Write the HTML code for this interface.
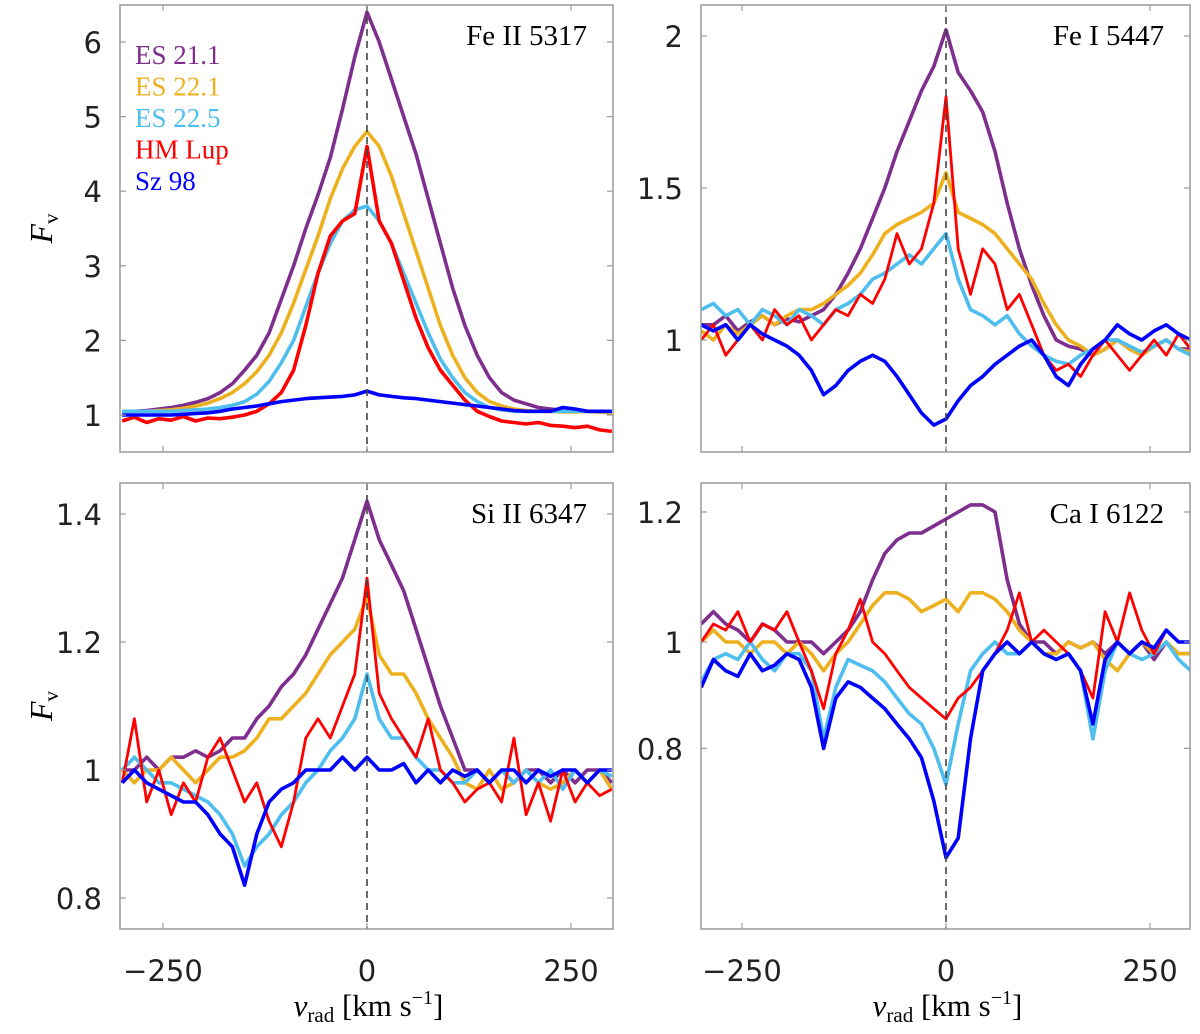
<!DOCTYPE html>
<html><head><meta charset="utf-8"><style>
html,body{margin:0;padding:0;background:#fff;}
svg{display:block;}
.tk{font-family:"DejaVu Sans","Liberation Sans",sans-serif;font-size:29px;fill:#222;}
.sf{font-family:"Liberation Serif",serif;}
</style></head><body>
<svg id="chart" width="1200" height="1034" viewBox="0 0 1200 1034" xmlns="http://www.w3.org/2000/svg"></svg>
<script>
const velocities = [-300,-285,-270,-255,-240,-225,-210,-195,-180,-165,-150,-135,-120,-105,-90,-75,-60,-45,-30,-15,0,15,30,45,60,75,90,105,120,135,150,165,180,195,210,225,240,255,270,285,300];
const seriesNames = ["ES 21.1","ES 22.1","ES 22.5","HM Lup","Sz 98"];
const panelTitles = ["Fe II 5317","Fe I 5447","Si II 6347","Ca I 6122"];
const xTicks = [-250,0,250];
const yTicksFe2 = [1,2,3,4,5,6];
const yTicksFe1 = [1,1.5,2];
const yTicksSi2 = [0.8,1,1.2,1.4];
const yTicksCa1 = [0.8,1,1.2];

const fe2Purple=[1.05,1.05,1.06,1.08,1.1,1.13,1.17,1.22,1.3,1.42,1.6,1.8,2.1,2.55,3.0,3.5,3.95,4.45,5.1,5.8,6.4,6.0,5.5,5.0,4.5,3.9,3.3,2.7,2.2,1.8,1.5,1.3,1.2,1.15,1.1,1.08,1.06,1.05,1.05,1.04,1.03];
const fe2Orange=[1.05,1.05,1.05,1.06,1.07,1.09,1.12,1.16,1.22,1.3,1.42,1.58,1.8,2.1,2.5,2.95,3.4,3.9,4.3,4.6,4.8,4.6,4.2,3.7,3.2,2.7,2.2,1.8,1.5,1.3,1.18,1.12,1.08,1.06,1.05,1.05,1.04,1.04,1.05,1.04,1.03];
const fe2Cyan=[1.05,1.05,1.05,1.05,1.05,1.06,1.07,1.08,1.1,1.13,1.18,1.28,1.45,1.7,2.0,2.45,2.9,3.3,3.6,3.75,3.8,3.6,3.3,2.9,2.5,2.1,1.75,1.5,1.3,1.18,1.1,1.07,1.05,1.05,1.05,1.05,1.05,1.05,1.05,1.05,1.05];
const fe2Red=[0.92,0.97,0.9,0.95,0.93,0.98,0.92,0.96,0.95,0.97,1.0,1.05,1.15,1.3,1.6,2.2,2.9,3.4,3.6,3.7,4.6,3.6,3.3,2.8,2.3,1.9,1.6,1.4,1.2,1.05,0.98,0.92,0.9,0.88,0.9,0.86,0.85,0.83,0.85,0.8,0.78];
const fe2Blue=[1.0,1.0,1.0,1.0,1.0,1.01,1.02,1.03,1.05,1.08,1.1,1.12,1.15,1.18,1.2,1.22,1.23,1.24,1.25,1.27,1.32,1.27,1.25,1.23,1.22,1.2,1.18,1.16,1.14,1.12,1.1,1.08,1.06,1.05,1.05,1.05,1.1,1.08,1.05,1.05,1.05];

const fe1Purple=[1.05,1.05,1.08,1.03,1.06,1.08,1.05,1.07,1.06,1.08,1.1,1.15,1.22,1.3,1.4,1.5,1.62,1.72,1.82,1.9,2.02,1.88,1.82,1.75,1.62,1.45,1.3,1.18,1.08,1.0,0.98,0.97,0.95,0.97,1.0,0.97,0.95,0.98,1.0,0.97,0.97];
const fe1Orange=[1.03,1.0,1.05,1.02,1.05,1.08,1.05,1.08,1.1,1.1,1.12,1.15,1.18,1.22,1.28,1.35,1.38,1.4,1.42,1.45,1.55,1.42,1.4,1.38,1.35,1.3,1.25,1.2,1.12,1.05,1.0,0.98,0.95,0.97,1.0,0.97,0.95,0.98,1.0,0.97,0.96];
const fe1Cyan=[1.1,1.12,1.08,1.1,1.05,1.1,1.08,1.05,1.1,1.08,1.05,1.1,1.12,1.15,1.2,1.22,1.25,1.28,1.25,1.3,1.35,1.2,1.1,1.08,1.05,1.08,1.02,0.98,0.95,0.93,0.92,0.95,0.97,1.0,1.0,0.98,0.96,0.98,1.0,0.97,0.95];
const fe1Red=[1.0,1.05,0.95,1.0,1.05,1.0,1.1,1.05,1.08,1.0,1.05,1.1,1.08,1.15,1.12,1.2,1.35,1.25,1.3,1.45,1.8,1.3,1.15,1.3,1.25,1.1,1.15,1.05,0.95,0.9,0.92,0.88,0.95,1.0,0.95,0.9,0.95,1.0,0.95,1.02,0.97];
const fe1Blue=[1.05,1.03,1.05,1.0,1.05,1.02,1.0,0.98,0.95,0.9,0.82,0.85,0.9,0.93,0.95,0.93,0.88,0.82,0.76,0.72,0.74,0.8,0.85,0.88,0.92,0.95,0.98,1.0,0.95,0.88,0.85,0.92,0.97,1.0,1.05,1.02,1.0,1.03,1.05,1.02,1.0];

const si2Purple=[1.0,1.0,1.02,1.0,1.02,1.02,1.03,1.02,1.03,1.05,1.05,1.08,1.1,1.13,1.15,1.18,1.22,1.26,1.3,1.36,1.42,1.36,1.32,1.28,1.22,1.16,1.1,1.05,1.0,1.0,0.98,1.0,0.98,1.0,1.0,0.98,1.0,0.98,1.0,1.0,0.98];
const si2Orange=[1.0,0.98,1.0,1.0,1.02,1.0,0.98,1.0,1.02,1.02,1.03,1.05,1.08,1.08,1.1,1.12,1.15,1.18,1.2,1.22,1.27,1.18,1.15,1.15,1.12,1.08,1.05,1.02,0.98,0.97,1.0,0.97,0.98,1.0,0.98,0.97,0.98,1.0,0.98,1.0,0.97];
const si2Cyan=[1.0,1.02,1.0,0.98,0.98,0.97,0.96,0.95,0.93,0.9,0.85,0.88,0.9,0.93,0.95,0.98,1.0,1.03,1.05,1.08,1.15,1.08,1.05,1.05,1.02,1.0,1.0,0.98,0.98,1.0,0.98,1.0,0.98,1.0,0.98,1.0,0.97,1.0,0.98,1.0,0.99];
const si2Red=[0.98,1.08,0.95,1.0,0.93,0.98,0.95,1.02,1.05,1.0,0.95,0.98,0.92,0.88,0.95,1.05,1.08,1.05,1.1,1.15,1.3,1.12,1.08,1.05,1.02,1.08,1.0,0.98,0.95,0.97,0.98,0.95,1.05,0.93,0.98,0.92,1.0,0.95,0.98,0.96,0.97];
const si2Blue=[0.98,1.0,0.98,0.97,0.96,0.95,0.95,0.93,0.9,0.88,0.82,0.9,0.95,0.97,0.98,1.0,1.0,1.0,1.02,1.0,1.02,1.0,1.0,1.01,0.98,1.0,0.98,1.0,0.99,1.0,0.98,1.0,1.0,0.98,1.0,0.99,1.0,1.0,0.98,1.0,1.0];

const ca1Purple=[1.03,1.05,1.03,1.02,1.0,1.03,1.02,1.0,1.0,1.0,0.98,1.0,1.02,1.05,1.1,1.14,1.16,1.17,1.17,1.18,1.19,1.2,1.21,1.21,1.2,1.1,1.03,1.0,1.0,0.98,1.0,0.99,1.0,0.98,1.0,0.98,1.0,0.97,1.0,0.98,0.98];
const ca1Orange=[1.0,1.02,1.0,1.0,0.98,1.0,1.0,0.98,1.0,0.98,0.95,0.98,1.0,1.03,1.06,1.08,1.08,1.07,1.05,1.06,1.07,1.05,1.08,1.08,1.07,1.05,1.02,1.0,0.98,0.98,1.0,0.99,1.0,0.97,0.95,0.98,1.0,0.98,1.0,0.98,0.98];
const ca1Cyan=[0.93,0.97,0.98,0.97,1.0,0.97,0.95,0.98,0.98,0.95,0.82,0.92,0.97,0.96,0.95,0.93,0.9,0.87,0.85,0.8,0.72,0.85,0.95,0.98,1.0,0.98,0.98,1.0,0.98,0.97,0.98,0.95,0.82,0.95,1.0,0.98,0.97,0.98,1.0,0.97,0.95];
const ca1Red=[1.0,1.03,1.02,1.05,1.0,1.03,1.02,1.05,1.0,0.95,0.88,0.98,1.02,1.07,1.0,0.98,0.95,0.92,0.9,0.88,0.86,0.9,0.92,0.95,0.98,1.02,1.08,1.0,1.02,1.0,0.98,0.95,0.9,1.05,1.0,1.08,1.02,0.98,1.02,1.0,1.0];
const ca1Blue=[0.92,0.97,0.95,0.94,0.98,0.95,0.96,0.98,0.97,0.92,0.8,0.9,0.93,0.92,0.9,0.88,0.85,0.82,0.78,0.68,0.52,0.58,0.82,0.95,0.98,1.0,0.98,1.0,0.98,0.97,0.98,0.95,0.85,0.97,1.0,0.98,1.0,0.99,1.02,1.0,1.0];

const colors=["#7E2F8E","#EDB120","#4DBEEE","#FF0000","#0000FF"];
const NS="http://www.w3.org/2000/svg";
const svg=document.getElementById("chart");
function mk(tag,attrs,parent){const e=document.createElementNS(NS,tag);for(const k in attrs)e.setAttribute(k,attrs[k]);(parent||svg).appendChild(e);return e;}

const panels=[
 {key:"fe2",x0:120,x1:613,y0:5,y1:452,zero:367,series:[fe2Purple,fe2Orange,fe2Cyan,fe2Red,fe2Blue],ticks:yTicksFe2,yf:F=>415-(F-1)*74.6,title:panelTitles[0],ylab:true,xlab:false,legend:true},
 {key:"fe1",x0:701,x1:1190,y0:5,y1:452,zero:946,series:[fe1Purple,fe1Orange,fe1Cyan,fe1Red,fe1Blue],ticks:yTicksFe1,yf:F=>340-(F-1)*304,title:panelTitles[1],ylab:false,xlab:false},
 {key:"si2",x0:120,x1:613,y0:483,y1:929,zero:367,series:[si2Purple,si2Orange,si2Cyan,si2Red,si2Blue],ticks:yTicksSi2,yf:F=>770-(F-1)*640,title:panelTitles[2],ylab:true,xlab:true},
 {key:"ca1",x0:701,x1:1190,y0:483,y1:929,zero:946,series:[ca1Purple,ca1Orange,ca1Cyan,ca1Red,ca1Blue],ticks:yTicksCa1,yf:F=>937.5-295.5*F*F,title:panelTitles[3],ylab:false,xlab:true}
];

panels.forEach(p=>{
 const g=mk("g",{});
 
 
 const xf=v=>p.zero+v*0.816;
 const cid="clip-"+p.key;
 const cp=mk("clipPath",{id:cid},g);
 mk("rect",{x:p.x0,y:p.y0,width:p.x1-p.x0,height:p.y1-p.y0},cp);
 const lg=mk("g",{"clip-path":"url(#"+cid+")"},g);
 p.series.forEach((arr,si)=>{
  const pts=arr.map((F,i)=>xf(velocities[i]).toFixed(1)+","+p.yf(F).toFixed(1)).join(" ");
  const pl=mk("polyline",{points:pts,fill:"none",stroke:colors[si],"stroke-width":(si==3&&p.key!="fe2")?2.8:3.6,"stroke-linejoin":"round"},lg);
  
  
 });
 const dz=mk("line",{x1:xf(0),x2:xf(0),y1:p.y0,y2:p.y1,stroke:"#444","stroke-width":1.6,"stroke-dasharray":"7,5"},g);
 
 
 const box=mk("rect",{x:p.x0,y:p.y0,width:p.x1-p.x0,height:p.y1-p.y0,fill:"none",stroke:"#999","stroke-width":1.5},g);
 
 
 xTicks.forEach(t=>{
  const x=xf(t);
  mk("line",{x1:x,x2:x,y1:p.y1,y2:p.y1-6,stroke:"#999","stroke-width":1.2},g);
  mk("line",{x1:x,x2:x,y1:p.y0,y2:p.y0+6,stroke:"#999","stroke-width":1.2},g);
  if(p.xlab){const tx=mk("text",{x:x,y:981,"text-anchor":"middle",class:"tk"},g);tx.textContent=(t<0?"\u2212":"")+Math.abs(t);
   
   }
 });
 p.ticks.forEach(t=>{
  const y=p.yf(t);
  mk("line",{x1:p.x0,x2:p.x0+6,y1:y,y2:y,stroke:"#999","stroke-width":1.2},g);
  mk("line",{x1:p.x1,x2:p.x1-6,y1:y,y2:y,stroke:"#999","stroke-width":1.2},g);
  const tx=mk("text",{x:p.x0-18,y:y+11,"text-anchor":"end",class:"tk"},g);tx.textContent=String(t);
  
  
 });
 const tt=mk("text",{x:p.x1-26,y:p.y0+40,"text-anchor":"end",class:"sf","font-size":"29"},g);tt.textContent=p.title;
 
 
 if(p.ylab){
  const yl=mk("text",{transform:"translate(52,"+((p.y0+p.y1)/2)+") rotate(-90)","text-anchor":"middle",class:"sf","font-size":"32","font-style":"italic"},g);
  yl.innerHTML='F<tspan font-size="21" dy="6" font-style="normal">v</tspan>';
  
  
 }
 if(p.xlab){
  const xl=mk("text",{x:(p.x0+p.x1)/2+2,y:1016,"text-anchor":"middle",class:"sf","font-size":"31"},g);
  xl.innerHTML='<tspan font-style="italic">v</tspan><tspan font-size="21" dy="6">rad</tspan><tspan dy="-6"> [km s</tspan><tspan font-size="20" dy="-12">\u22121</tspan><tspan dy="12">]</tspan>';
  
  
 }
 if(p.legend){
  seriesNames.forEach((n,i)=>{
   const le=mk("text",{x:135,y:64+i*31.5,class:"sf","font-size":"27",fill:colors[i]},g);le.textContent=n;
   
   
  });
 }
});
</script>
</body></html>
